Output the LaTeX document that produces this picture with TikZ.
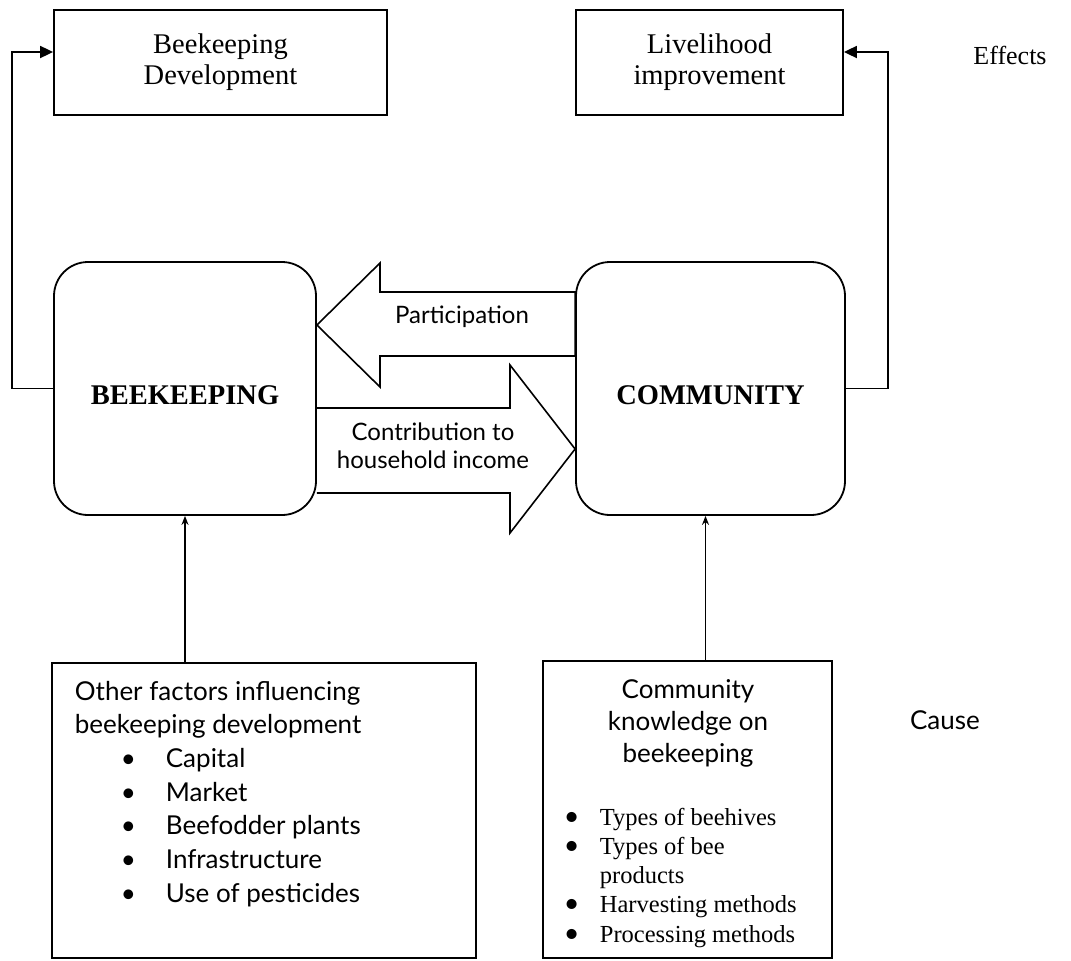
\documentclass[tikz,border=0pt]{standalone}
\usepackage{fontspec}
\setmainfont{Liberation Serif}
\newfontfamily\gill{Lato}
\usetikzlibrary{arrows.meta,calc}
\newcommand{\ofbul}{\hspace*{46pt}\makebox[45pt][l]{\textbullet}}
\newcommand{\ckbul}{\makebox[36pt][l]{{\gill\fontsize{27}{29}\selectfont\textbullet}}}
\begin{document}
\begin{tikzpicture}[x=1pt,y=-1pt,line width=1.8pt,
  box/.style={draw, rectangle, inner sep=0pt},
  rbox/.style={draw, rounded corners=34pt, minimum width=262pt, minimum height=253pt,
    inner sep=0pt, text height=31pt, text depth=0pt, font=\bfseries\fontsize{28.5}{33}\selectfont},
  topbox/.style={box, align=center, font=\fontsize{28.5}{31}\selectfont},
  conn/.style={line width=1.8pt, -{Triangle[length=13pt,width=12pt]}},
  upconn/.style={line width=1.8pt, -{Stealth[length=9pt,width=7pt]}},
  blk/.style={draw, line width=1.6pt, line join=miter},
  lab/.style={font=\gill\fontsize{24}{28}\selectfont, align=center, inner sep=0pt},
  sidelab/.style={inner sep=0pt}]
\useasboundingbox (0,0) rectangle (1071,961);

% effect boxes
\node[topbox, minimum width=333pt, minimum height=105pt] (bdev) at (220.5,62.5) {Beekeeping\\Development};
\node[topbox, minimum width=267pt, minimum height=105pt] (lh) at (709.5,62.5) {Livelihood\\improvement};
\node[sidelab, font=\fontsize{26}{30}\selectfont] (eff) at (1010,55) {Effects};

% central boxes
\node[rbox] (bk) at (185,388.5) {BEEKEEPING};
\node[rbox, minimum width=269pt] (cm) at (710.5,388.5) {COMMUNITY};

% block arrows
\draw[blk] (bk.east |- 0,325) -- (380,263) -- (380,292) -- (cm.west |- 0,292)
  -- (cm.west |- 0,356) -- (380,356) -- (380,387) -- cycle;
\draw[blk] (bk.east |- 0,408) -- (510,408) -- (510,365) -- (cm.west |- 0,449)
  -- (510,533) -- (510,493) -- (bk.east |- 0,493);
\node[lab] (ptxt) at (462,317) {Participation};
\node[lab] (ctxt) at (433,446) {Contribution to\\household income};

% feedback connectors
\coordinate (lt) at (12,52);
\coordinate (rt) at (888,52);
\draw[conn] (bk.west) -| (lt) -- (bdev.west |- lt);
\draw[conn] (cm.east) -| (rt) -- (lh.east |- rt);

% cause boxes
\node[box, minimum width=424pt, minimum height=295pt] (ofb) at (264,810.5) {};
\node[box, minimum width=289pt, minimum height=297pt] (ckb) at (687.5,809.5) {};
\node[anchor=base west, inner sep=0pt] (oft) at (74,700) {\parbox[t]{395pt}{\gill\fontsize{26}{33.7}\selectfont\raggedright
  Other factors influencing\\
  beekeeping development\\
  \ofbul Capital\\
  \ofbul Market\\
  \ofbul Beefodder plants\\
  \ofbul Infrastructure\\
  \ofbul Use of pesticides}};
\node[anchor=base, inner sep=0pt] (ckt) at (688,698) {\parbox[t]{280pt}{\centering\gill\fontsize{26}{32}\selectfont
  Community\\knowledge on\\beekeeping}};
\node[anchor=base west, inner sep=0pt] (ckl) at (563,825) {\parbox[t]{265pt}{\fontsize{24.5}{29.3}\selectfont\raggedright
  \ckbul Types of beehives\\
  \ckbul Types of bee\\
  \hspace*{36pt}products\\
  \ckbul Harvesting methods\\
  \ckbul Processing methods}};
\node[sidelab, font=\gill\fontsize{26}{30}\selectfont] (cause) at (945,720) {Cause};

% cause arrows
\coordinate (cmin) at ([xshift=-5pt]cm.south);
\draw[upconn] (bk.south |- ofb.north) -- (bk.south);
\draw[upconn] (cmin |- ckb.north) -- (cmin);
\end{tikzpicture}
\end{document}
